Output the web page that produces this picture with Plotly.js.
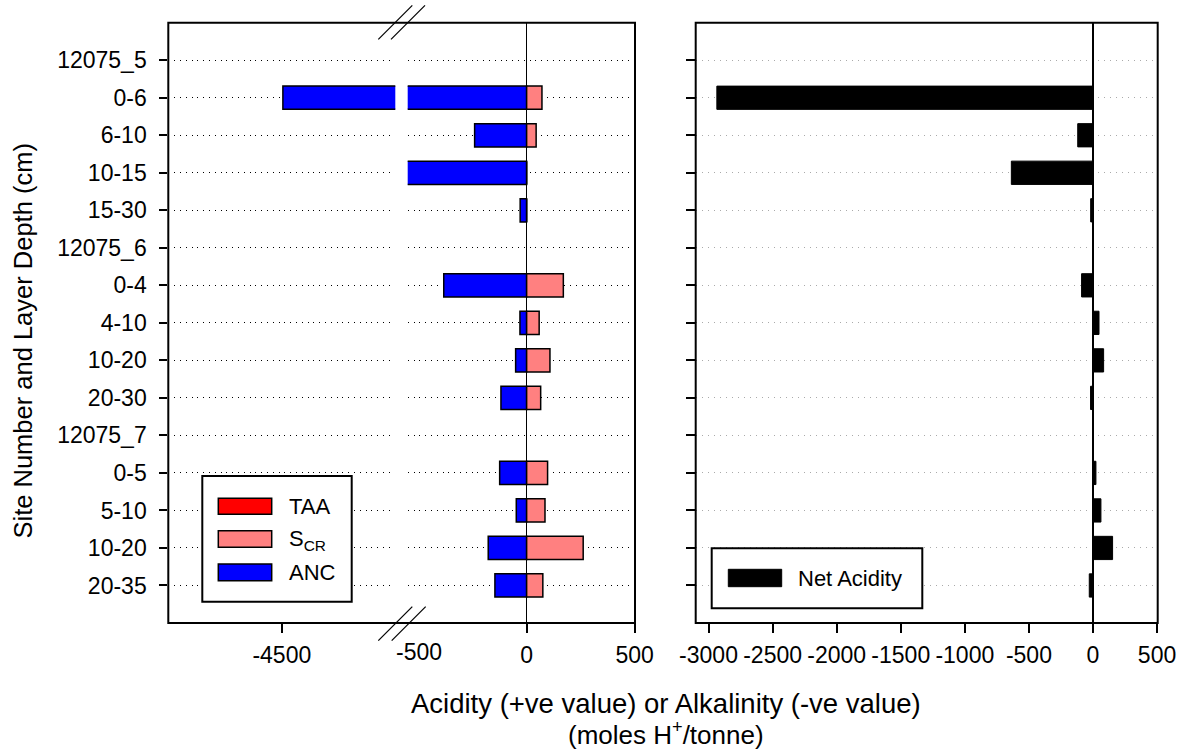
<!DOCTYPE html>
<html>
<head>
<meta charset="utf-8">
<script src="https://cdn.plot.ly/plotly-3.0.1.min.js"></script>
<style>html,body{margin:0;padding:0;background:#fff;}#chart{width:1191px;height:753px;}</style>
</head>
<body>
<div id="chart"></div>
<script>
// ---- data (rows from top to bottom) ----
const rowLabels = ["12075_5","0-6","6-10","10-15","15-30","12075_6","0-4","4-10","10-20","20-30","12075_7","0-5","5-10","10-20","20-35"];
const taaValues = [null,0,0,0,0,null,0,0,0,0,null,0,0,0,0];
const scrValues = [null,71,44,0,0,null,170,58,108,65,null,97,85,262,75];
const ancValues = [null,-4495,-241,-955,-30,null,-384,-31,-51,-119,null,-125,-48,-178,-147];
const netAcidity = [null,-2935,-119,-637,-18,null,-89,47,83,-19,null,23,62,153,-29];
const leftTicksLow = [-4500];
const leftTicksHigh = [0, 500];
const rightTicks = [-3000,-2500,-2000,-1500,-1000,-500,0,500];

// ---- helpers for layout (pixel -> paper) ----
const W = 1191, H = 753;
const fx = p => p / W;
const fy = p => 1 - p / H;
const rowIdx = rowLabels.map((_, i) => i);

const FONT = "Liberation Sans, Arial, Helvetica, sans-serif";
const black = "#000";
const barW = 0.62;
const outline = {color: black, width: 1.5};

const traces = [
  // left panel, low segment (break axis)
  {type:"bar", orientation:"h", x: ancValues, y: rowIdx, xaxis:"x", yaxis:"y", width: barW,
   marker:{color:"#0000FF", line: outline}, showlegend:false, hoverinfo:"skip"},
  // left panel, high segment
  {type:"bar", orientation:"h", x: ancValues, y: rowIdx, xaxis:"x2", yaxis:"y", width: barW,
   marker:{color:"#0000FF", line: outline}, name:"ANC", showlegend:false},
  {type:"bar", orientation:"h", x: scrValues, y: rowIdx, xaxis:"x2", yaxis:"y", width: barW,
   marker:{color:"#FF8080", line: outline}, name:"SCR", showlegend:false},
  {type:"bar", orientation:"h", x: taaValues, y: rowIdx, xaxis:"x2", yaxis:"y", width: barW,
   marker:{color:"#FF0000", line:{color: black, width: 0}}, name:"TAA", showlegend:false},
  // right panel
  {type:"bar", orientation:"h", x: netAcidity, y: rowIdx, xaxis:"x3", yaxis:"y2", width: barW,
   marker:{color:"#000000", line:{color: black, width: 1}}, name:"Net Acidity", showlegend:false}
];

const yTop = 22.7, yBot = 623;
const yDomain = [fy(yBot), fy(yTop)];
const tickFont = {family: FONT, size: 23, color: black};

const commonX = {
  ticks:"outside", ticklen:9, tickwidth:2, tickcolor:black, tickfont: tickFont,
  ticklabelstandoff: 2,
  showgrid:false, showline:false, automargin:false, fixedrange:true
};

const layout = {
  width: W, height: H,
  margin:{l:0,r:0,t:0,b:0},
  paper_bgcolor:"#fff", plot_bgcolor:"rgba(0,0,0,0)",
  barmode:"relative",
  showlegend:false,
  font:{family: FONT, color: black},
  xaxis: Object.assign({}, commonX, {
    domain:[fx(168.3), fx(395.3)], range:[-5025,-3975], anchor:"y",
    tickmode:"array", tickvals: leftTicksLow, ticktext: leftTicksLow.map(String), zeroline:false
  }),
  xaxis2: Object.assign({}, commonX, {
    domain:[fx(407.7), fx(635)], range:[-551, 502], anchor:"y",
    tickmode:"array", tickvals: leftTicksHigh, ticktext: leftTicksHigh.map(String),
    zeroline:true, zerolinecolor:black, zerolinewidth:1.5
  }),
  xaxis3: Object.assign({}, commonX, {
    domain:[fx(695.7), fx(1157.7)], range:[-3100, 505], anchor:"y2",
    tickmode:"array", tickvals: rightTicks, ticktext: rightTicks.map(String),
    zeroline:true, zerolinecolor:black, zerolinewidth:1.5
  }),
  yaxis: {
    domain: yDomain, range:[15,-1], anchor:"x",
    tickmode:"array", tickvals: rowIdx, ticktext: rowLabels,
    ticks:"outside", ticklen:8, tickwidth:2, tickcolor:black, tickfont: tickFont,
    ticklabelstandoff: 8,
    showgrid:true, gridcolor:black, gridwidth:1, griddash:"1px,4.8px",
    zeroline:false, showline:false, automargin:false, fixedrange:true
  },
  yaxis2: {
    domain: yDomain, range:[15,-1], anchor:"x3",
    tickmode:"array", tickvals: rowIdx, ticktext: rowLabels, showticklabels:false,
    ticks:"outside", ticklen:9, tickwidth:2, tickcolor:black,
    showgrid:true, gridcolor:"#aaaaaa", gridwidth:1, griddash:"1px,5px",
    zeroline:false, showline:false, automargin:false, fixedrange:true
  },
  shapes: [
    // panel frames
    {type:"rect", xref:"paper", yref:"paper", x0:fx(168.3), x1:fx(635), y0:fy(yBot), y1:fy(yTop), line:{color:black, width:2}},
    {type:"rect", xref:"paper", yref:"paper", x0:fx(695.7), x1:fx(1157.7), y0:fy(yBot), y1:fy(yTop), line:{color:black, width:2}},
    // axis break marks
    {type:"line", xref:"paper", yref:"paper", x0:fx(378.3), y0:fy(39.3), x1:fx(412.3), y1:fy(5.3), line:{color:black, width:1.2}},
    {type:"line", xref:"paper", yref:"paper", x0:fx(391), y0:fy(39.3), x1:fx(425), y1:fy(5.3), line:{color:black, width:1.2}},
    {type:"line", xref:"paper", yref:"paper", x0:fx(378.3), y0:fy(640.7), x1:fx(412.3), y1:fy(606.7), line:{color:black, width:1.2}},
    {type:"line", xref:"paper", yref:"paper", x0:fx(391.7), y0:fy(640.7), x1:fx(425.7), y1:fy(606.7), line:{color:black, width:1.2}},
    // left legend
    {type:"rect", xref:"paper", yref:"paper", x0:fx(202.3), x1:fx(351.7), y0:fy(601.7), y1:fy(476), fillcolor:"#fff", line:{color:black, width:2}},
    {type:"rect", xref:"paper", yref:"paper", x0:fx(218.3), x1:fx(271.7), y0:fy(514.3), y1:fy(498.3), fillcolor:"#FF0000", line:{color:black, width:1.5}},
    {type:"rect", xref:"paper", yref:"paper", x0:fx(218.3), x1:fx(271.7), y0:fy(547.3), y1:fy(530.7), fillcolor:"#FF8080", line:{color:black, width:1.5}},
    {type:"rect", xref:"paper", yref:"paper", x0:fx(218.3), x1:fx(271.7), y0:fy(580.7), y1:fy(564), fillcolor:"#0000FF", line:{color:black, width:1.5}},
    // right legend
    {type:"rect", xref:"paper", yref:"paper", x0:fx(711.7), x1:fx(922.3), y0:fy(608.3), y1:fy(548.3), fillcolor:"#fff", line:{color:black, width:2}},
    {type:"rect", xref:"paper", yref:"paper", x0:fx(728.3), x1:fx(781.7), y0:fy(586.7), y1:fy(569.3), fillcolor:"#000", line:{color:black, width:1}}
  ],
  annotations: [
    {xref:"x2", yref:"paper", x:-500, y:fy(yBot), yanchor:"top", xanchor:"center", yshift:-14, showarrow:false, text:"-500", font: tickFont},
    {xref:"paper", yref:"paper", x:fx(666), y:fy(703), xanchor:"center", yanchor:"middle", showarrow:false,
     text:"Acidity (+ve value) or Alkalinity (-ve value)", font:{family:FONT, size:27.5, color:black}},
    {xref:"paper", yref:"paper", x:fx(666), y:fy(752), xanchor:"center", yanchor:"bottom", showarrow:false,
     text:"(moles H<sup>+</sup>/tonne)", font:{family:FONT, size:26, color:black}},
    {xref:"paper", yref:"paper", x:fx(22), y:fy(341.5), xanchor:"center", yanchor:"middle", showarrow:false, textangle:-90,
     text:"Site Number and Layer Depth (cm)", font:{family:FONT, size:25.5, color:black}},
    {xref:"paper", yref:"paper", x:fx(286.7), y:fy(506.3), xanchor:"left", yanchor:"middle", showarrow:false, text:"TAA", font:{family:FONT, size:22, color:black}},
    {xref:"paper", yref:"paper", x:fx(286.7), y:fy(540), xanchor:"left", yanchor:"middle", showarrow:false, text:"S<sub>CR</sub>", font:{family:FONT, size:22, color:black}},
    {xref:"paper", yref:"paper", x:fx(286.7), y:fy(572.3), xanchor:"left", yanchor:"middle", showarrow:false, text:"ANC", font:{family:FONT, size:22, color:black}},
    {xref:"paper", yref:"paper", x:fx(796), y:fy(578), xanchor:"left", yanchor:"middle", showarrow:false, text:"Net Acidity", font:{family:FONT, size:22, color:black}}
  ]
};

Plotly.newPlot("chart", traces, layout, {displayModeBar:false, staticPlot:true});
</script>
</body>
</html>
